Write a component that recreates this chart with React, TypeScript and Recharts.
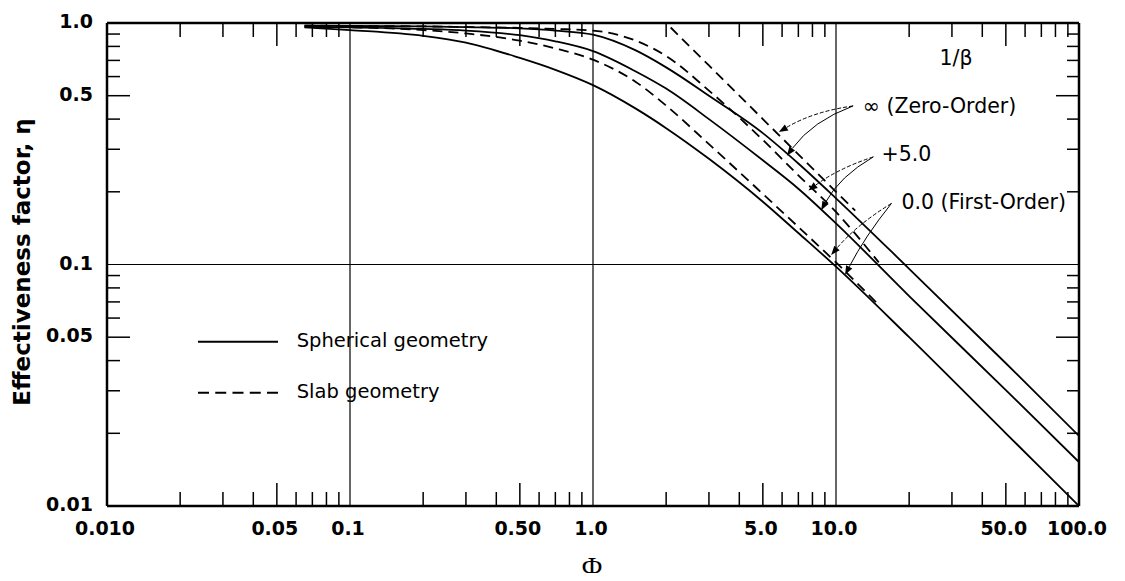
import React from "react";
import {
  LineChart,
  Line,
  XAxis,
  YAxis,
  ReferenceLine,
  ReferenceDot,
  Legend,
} from "recharts";

const SANS = "'DejaVu Sans', Verdana, sans-serif";
const SERIF = "'Liberation Serif', 'DejaVu Serif', serif";

// spherical geometry (solid)
const sphereFirstPhi = [0.065, 0.1, 0.2, 0.3, 0.5, 0.7, 1, 1.5, 2, 3, 5, 7, 10, 20, 50, 100];
const sphereFirstEta = [0.96, 0.935, 0.885, 0.83, 0.717, 0.64, 0.553, 0.442, 0.367, 0.274, 0.182, 0.135, 0.098, 0.05, 0.02, 0.01];

const spherePlus5Phi = [0.065, 0.1, 0.2, 0.3, 0.5, 0.7, 1, 1.5, 2, 3, 5, 7, 10, 20, 50, 100];
const spherePlus5Eta = [0.965, 0.96, 0.945, 0.93, 0.89, 0.84, 0.765, 0.63, 0.535, 0.4, 0.27, 0.206, 0.148, 0.074, 0.0302, 0.0152];

const sphereZeroPhi = [0.065, 0.1, 0.2, 0.3, 0.5, 0.7, 1, 1.5, 2, 3, 5, 7, 10, 20, 50, 100];
const sphereZeroEta = [0.975, 0.972, 0.968, 0.962, 0.95, 0.93, 0.895, 0.77, 0.655, 0.5, 0.35, 0.262, 0.188, 0.096, 0.039, 0.0195];

// slab geometry (dashed)
const slabFirstPhi = [0.065, 0.1, 0.2, 0.3, 0.5, 0.7, 1, 1.5, 2, 3, 5, 7, 10, 15];
const slabFirstEta = [0.965, 0.96, 0.935, 0.905, 0.845, 0.785, 0.705, 0.57, 0.455, 0.315, 0.196, 0.143, 0.102, 0.068];

const slabPlus5Phi = [0.065, 0.1, 0.2, 0.3, 0.5, 0.7, 1, 1.5, 2, 3, 5, 7, 10, 15];
const slabPlus5Eta = [0.975, 0.972, 0.968, 0.963, 0.955, 0.945, 0.93, 0.845, 0.73, 0.525, 0.328, 0.234, 0.165, 0.102];

const slabZeroPhi = [0.065, 1, 2, 3, 5, 7, 10, 12];
const slabZeroEta = [1, 1, 1, 0.667, 0.4, 0.286, 0.2, 0.167];

// axes
const phiTicks = [
  0.01, 0.02, 0.03, 0.04, 0.05, 0.06, 0.07, 0.08, 0.09,
  0.1, 0.2, 0.3, 0.4, 0.5, 0.6, 0.7, 0.8, 0.9,
  1, 2, 3, 4, 5, 6, 7, 8, 9,
  10, 20, 30, 40, 50, 60, 70, 80, 90, 100,
];
const phiLabelValues = [0.01, 0.05, 0.1, 0.5, 1, 5, 10, 50, 100];
const phiLabels = ["0.010", "0.05", "0.1", "0.50", "1.0", "5.0", "10.0", "50.0", "100.0"];

const etaTicks = [
  0.01, 0.02, 0.03, 0.04, 0.05, 0.06, 0.07, 0.08, 0.09,
  0.1, 0.2, 0.3, 0.4, 0.5, 0.6, 0.7, 0.8, 0.9, 1,
];
const etaLabelValues = [0.01, 0.05, 0.1, 0.5, 1];
const etaLabels = ["0.01", "0.05", "0.1", "0.5", "1.0"];

const gridPhi = [0.1, 1, 10];
const gridEta = [0.1];

// annotations
const noteText = ["1/β", "∞ (Zero-Order)", "+5.0", "0.0 (First-Order)"];
const notePhi = [31.2, 12.9, 15.4, 18.6];
const noteEta = [0.718, 0.452, 0.287, 0.181];

const arrowFromPhi = [11.76, 11.76, 14.24, 14.24, 16.91, 16.91];
const arrowFromEta = [0.4535, 0.4535, 0.279, 0.279, 0.179, 0.179];
const arrowToPhi = [5.82, 6.28, 7.7, 8.69, 9.55, 10.9];
const arrowToEta = [0.3537, 0.282, 0.2025, 0.1677, 0.1096, 0.0906];
const arrowBend = [-0.1, -0.15, -0.08, -0.14, -0.08, -0.05];
const arrowDotted = [true, false, true, false, true, false];

const legendLabels = ["Spherical geometry", "Slab geometry"];
const legendDash = [undefined, "11 6.25"];

const zip = (xs: number[], ys: number[]) => xs.map((phi, i) => ({ phi, eta: ys[i] }));

const same = (a: number, b: number) => Math.abs(a - b) / b < 1e-6;
const isDecade = (v: number) => Math.abs(Math.log10(v) - Math.round(Math.log10(v))) < 1e-6;
const isFive = (v: number) => isDecade(v / 5);
const tickLen = (v: number, short: number) => (isDecade(v) ? 0 : isFive(v) ? 23 : short);

function BottomTick(props: any) {
  const { x, y, payload } = props;
  const v = payload.value;
  const len = tickLen(v, 14);
  const i = phiLabelValues.findIndex((t) => same(v, t));
  return (
    <g>
      {len > 0 && <line x1={x} y1={y} x2={x} y2={y - len} stroke="#000" strokeWidth={1.5} />}
      {i >= 0 && (
        <text x={x - 2} y={y + 22} textAnchor="middle" dominantBaseline="central"
          fontFamily={SANS} fontWeight="bold" fontSize={19} fill="#000">
          {phiLabels[i]}
        </text>
      )}
    </g>
  );
}

function TopTick(props: any) {
  const { x, y, payload } = props;
  const len = tickLen(payload.value, 14);
  if (!len) return <g />;
  return <line x1={x} y1={y} x2={x} y2={y + len} stroke="#000" strokeWidth={1.5} />;
}

function LeftTick(props: any) {
  const { x, y, payload } = props;
  const v = payload.value;
  const len = tickLen(v, 13);
  const i = etaLabelValues.findIndex((t) => same(v, t));
  return (
    <g>
      {len > 0 && <line x1={x} y1={y} x2={x + len} y2={y} stroke="#000" strokeWidth={1.5} />}
      {i >= 0 && (
        <text x={x - 14} y={y - 2} textAnchor="end" dominantBaseline="central"
          fontFamily={SANS} fontWeight="bold" fontSize={19} fill="#000">
          {etaLabels[i]}
        </text>
      )}
    </g>
  );
}

function RightTick(props: any) {
  const { x, y, payload } = props;
  const len = tickLen(payload.value, 12);
  if (!len) return <g />;
  return <line x1={x} y1={y} x2={x - len} y2={y} stroke="#000" strokeWidth={1.5} />;
}

const arrowShape = (bend: number, dotted: boolean) => (p: any) => {
  const { x1, y1, x2, y2 } = p;
  const dx = x2 - x1;
  const dy = y2 - y1;
  const cx = (x1 + x2) / 2 + bend * dy;
  const cy = (y1 + y2) / 2 - bend * dx;
  const ex = x2 - cx;
  const ey = y2 - cy;
  const el = Math.hypot(ex, ey) || 1;
  const ux = ex / el;
  const uy = ey / el;
  const hl = 9;
  const hw = 3.5;
  const bx = x2 - ux * hl;
  const by = y2 - uy * hl;
  const head = `M${x2},${y2} L${bx - uy * hw},${by + ux * hw} L${bx + uy * hw},${by - ux * hw} Z`;
  return (
    <g>
      <path d={`M${x1},${y1} Q${cx},${cy} ${bx},${by}`} fill="none" stroke="#000"
        strokeWidth={1} strokeDasharray={dotted ? "4 2" : undefined} />
      <path d={head} fill="#000" />
    </g>
  );
};

const noteShape = (text: string, anchor: "start" | "middle") => (p: any) => (
  <text x={p.cx} y={p.cy} textAnchor={anchor} dominantBaseline="central"
    fontFamily={SANS} fontSize={20.5} fill="#000">
    {text}
  </text>
);

function LegendBox() {
  return (
    <svg width={340} height={100}>
      {legendLabels.map((label, i) => (
        <g key={label}>
          <line x1={8} x2={88} y1={23.7 + i * 51} y2={23.7 + i * 51} stroke="#000"
            strokeWidth={2} strokeDasharray={legendDash[i]} />
          <text x={106.7} y={28.5 + i * 51.5} fontFamily={SANS} fontSize={19.5} fill="#000">
            {label}
          </text>
        </g>
      ))}
    </svg>
  );
}

const solid = [
  zip(sphereFirstPhi, sphereFirstEta),
  zip(spherePlus5Phi, spherePlus5Eta),
  zip(sphereZeroPhi, sphereZeroEta),
];
const dashed = [
  zip(slabFirstPhi, slabFirstEta),
  zip(slabPlus5Phi, slabPlus5Eta),
];

export default function App() {
  return (
    <div style={{ margin: -8 }}>
      <LineChart width={1125} height={581} margin={{ top: 22, right: 45, bottom: 0, left: 0 }}>
        <XAxis
          dataKey="phi"
          type="number"
          scale="log"
          domain={[0.01, 100]}
          allowDataOverflow
          ticks={phiTicks}
          interval={0}
          height={75}
          tickSize={0}
          tickMargin={0}
          tickLine={false}
          axisLine={{ stroke: "#000", strokeWidth: 2.5 }}
          tick={(p: any) => <BottomTick {...p} />}
          label={{
            content: () => (
              <text x={592} y={566} textAnchor="middle" dominantBaseline="central"
                fontFamily={SERIF} fontSize={28} fill="#000">
                Φ
              </text>
            ),
          }}
        />
        <XAxis
          xAxisId="top"
          orientation="top"
          dataKey="phi"
          type="number"
          scale="log"
          domain={[0.01, 100]}
          allowDataOverflow
          ticks={phiTicks}
          interval={0}
          height={1}
          tickSize={0}
          tickMargin={0}
          tickLine={false}
          axisLine={{ stroke: "#000", strokeWidth: 2.5 }}
          tick={(p: any) => <TopTick {...p} />}
        />
        <YAxis
          type="number"
          scale="log"
          domain={[0.01, 1]}
          allowDataOverflow
          ticks={etaTicks}
          interval={0}
          width={107}
          tickSize={0}
          tickMargin={0}
          tickLine={false}
          axisLine={{ stroke: "#000", strokeWidth: 2.5 }}
          tick={(p: any) => <LeftTick {...p} />}
          label={{
            content: () => (
              <text x={22} y={262} transform="rotate(-90 22 262)" textAnchor="middle"
                dominantBaseline="central" fontFamily={SANS} fontWeight="bold" fontSize={23} fill="#000">
                Effectiveness factor, η
              </text>
            ),
          }}
        />
        <YAxis
          yAxisId="right"
          orientation="right"
          type="number"
          scale="log"
          domain={[0.01, 1]}
          allowDataOverflow
          ticks={etaTicks}
          interval={0}
          width={1}
          tickSize={0}
          tickMargin={0}
          tickLine={false}
          axisLine={{ stroke: "#000", strokeWidth: 2.5 }}
          tick={(p: any) => <RightTick {...p} />}
        />

        {gridPhi.map((v) => (
          <ReferenceLine key={`gx${v}`} x={v} stroke="#000" strokeWidth={1.2} />
        ))}
        {gridEta.map((v) => (
          <ReferenceLine key={`gy${v}`} y={v} stroke="#000" strokeWidth={1.2} />
        ))}

        {solid.map((d, i) => (
          <Line key={`s${i}`} data={d} dataKey="eta" type="monotone" stroke="#000"
            strokeWidth={1.8} dot={false} activeDot={false} isAnimationActive={false} />
        ))}
        {dashed.map((d, i) => (
          <Line key={`d${i}`} data={d} dataKey="eta" type="monotone" stroke="#000"
            strokeWidth={1.8} strokeDasharray="10 6" dot={false} activeDot={false}
            isAnimationActive={false} />
        ))}
        {/* zero-order slab drawn on the mirror axes (same domains) */}
        <Line data={zip(slabZeroPhi, slabZeroEta)} dataKey="eta" type="linear" stroke="#000"
          xAxisId="top" yAxisId="right"
          strokeWidth={1.8} strokeDasharray="10 6" dot={false} activeDot={false}
          isAnimationActive={false} />

        {arrowFromPhi.map((_, i) => (
          <ReferenceLine
            key={`a${i}`}
            segment={[
              { x: arrowFromPhi[i], y: arrowFromEta[i] },
              { x: arrowToPhi[i], y: arrowToEta[i] },
            ]}
            shape={arrowShape(arrowBend[i], arrowDotted[i])}
          />
        ))}
        {noteText.map((t, i) => (
          <ReferenceDot key={`n${i}`} x={notePhi[i]} y={noteEta[i]} r={0}
            shape={noteShape(t, i === 0 ? "middle" : "start")} />
        ))}

        <Legend
          layout="vertical"
          align="center"
          verticalAlign="middle"
          wrapperStyle={{ left: 190, top: 318, width: 340, height: 100 }}
          content={() => <LegendBox />}
        />
      </LineChart>
    </div>
  );
}
